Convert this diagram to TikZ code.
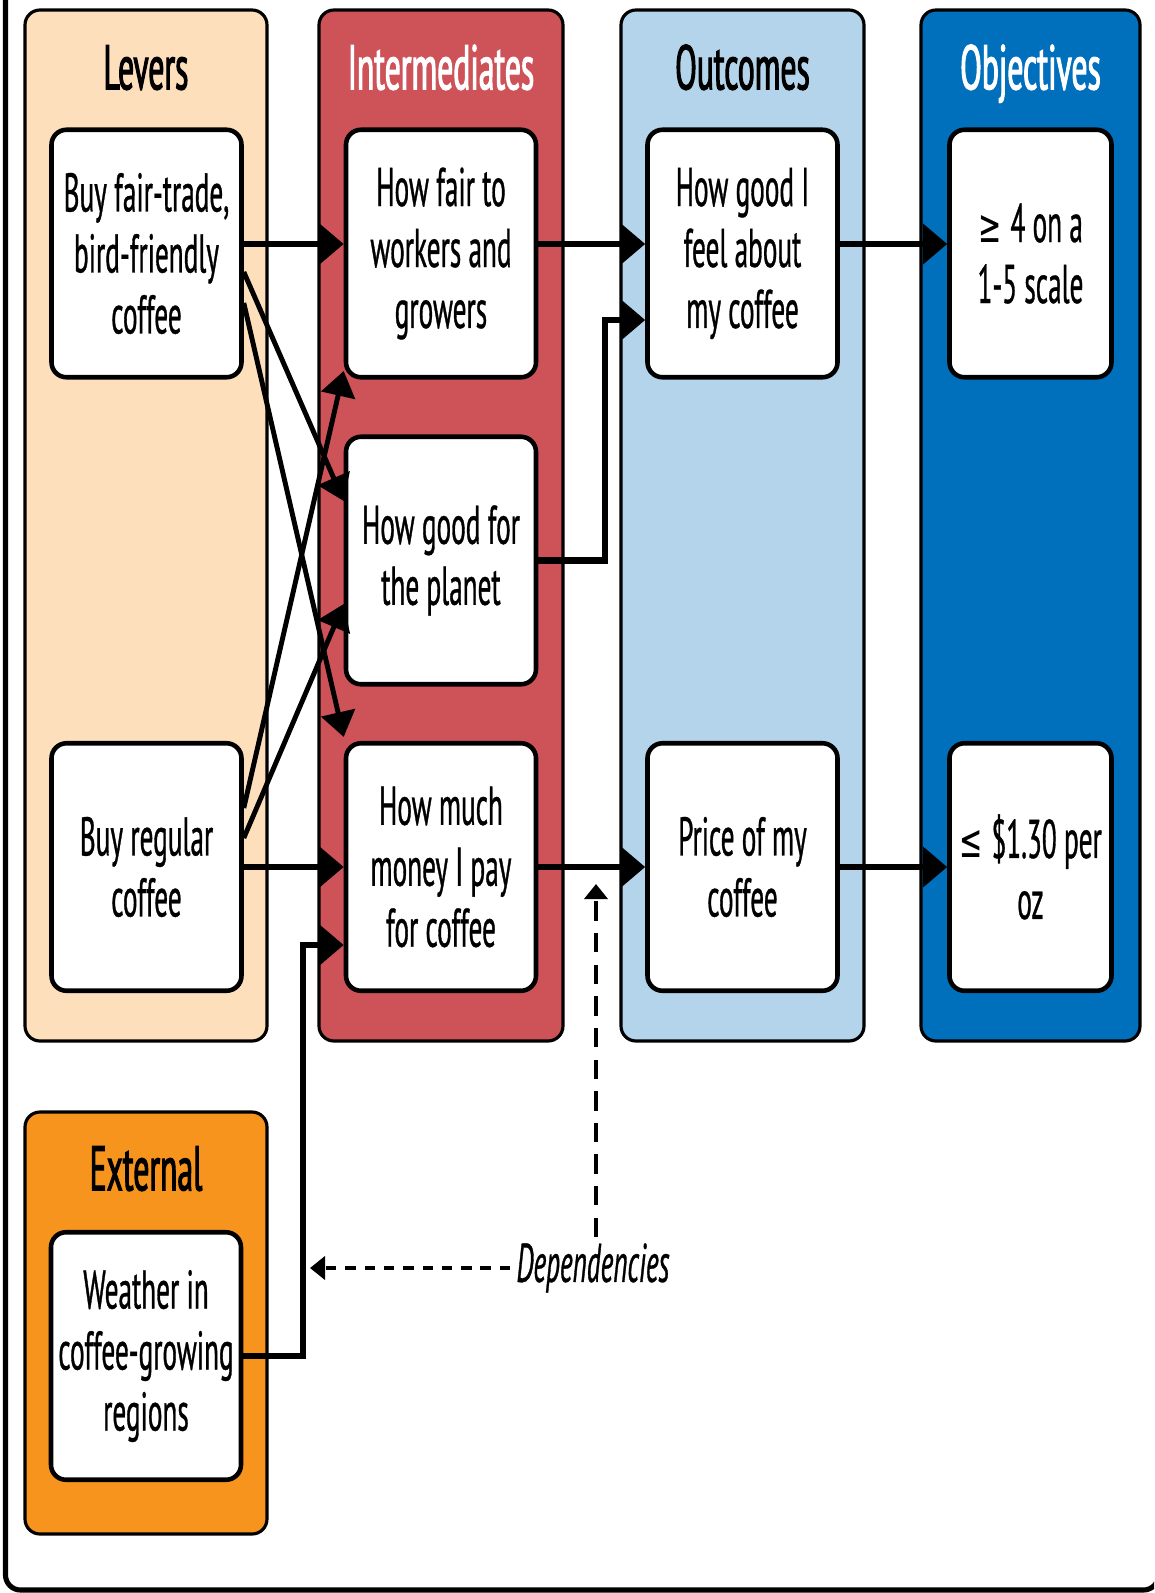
\documentclass[tikz,border=0pt]{standalone}
\usepackage{fontspec}
\setmainfont{PT Sans}[FakeStretch=0.5, FakeBold=0.6]
\newfontfamily\ttlfont{PT Sans}[FakeStretch=0.5, FakeBold=1.6]
\newfontfamily\symfont{DejaVu Sans}[FakeStretch=0.6, Scale=0.85]
\usetikzlibrary{arrows.meta, positioning, calc}

\definecolor{leverfill}{RGB}{253,223,188}
\definecolor{interfill}{RGB}{205,83,89}
\definecolor{outfill}{RGB}{179,212,234}
\definecolor{objfill}{RGB}{0,112,189}
\definecolor{extfill}{RGB}{247,148,29}

\tikzset{
  panel/.style={rectangle, draw, line width=1.8pt, rounded corners=0.3cm,
                minimum width=4.84cm, minimum height=20.62cm},
  box/.style={rectangle, draw, fill=white, line width=2.6pt, rounded corners=0.3cm,
              minimum width=3.8cm, minimum height=4.95cm, align=center,
              font=\fontsize{31}{34.7}\selectfont},
  ttl/.style={anchor=base, font=\ttlfont\fontsize{36}{40}\selectfont},
  flow/.style={-{Triangle[length=0.48cm, width=0.78cm]}, line width=3.6pt},
  cross/.style={-{Triangle[length=0.5cm, width=0.68cm]}, line width=2.8pt},
}

\begin{document}
\begin{tikzpicture}[
  dep/.style={-{Triangle[length=0.3cm, width=0.46cm]}, line width=2.3pt},
  deplbl/.style={font=\fontsize{31}{34.7}\selectfont\itshape},
]
  \useasboundingbox (0,0) rectangle (23.08,-31.86);
  \clip (0,0) rectangle (23.08,-31.86);

  \draw[line width=2.9pt, rounded corners=0.3cm] (0.11,1) rectangle (23.17,-31.8);

  % columns
  \node[panel, fill=leverfill] (lev) at (2.92,-10.51) {};
  \node[panel, fill=interfill, minimum width=4.88cm] (int) at (8.82,-10.51) {};
  \node[panel, fill=outfill, minimum width=4.86cm] (out) at (14.85,-10.51) {};
  \node[panel, fill=objfill, minimum width=4.38cm] (obj) at (20.61,-10.51) {};
  \node[panel, fill=extfill, minimum height=8.44cm] (ext) at (2.92,-26.46) {};

  \node[ttl] (levt) at ([yshift=-1.62cm]lev.north) {Levers};
  \node[ttl, text=white] (intt) at ([yshift=-1.62cm]int.north) {Intermediates};
  \node[ttl] (outt) at ([yshift=-1.62cm]out.north) {Outcomes};
  \node[ttl, text=white] (objt) at ([yshift=-1.62cm]obj.north) {Objectives};
  \node[ttl] (extt) at ([yshift=-1.6cm]ext.north) {External};

  % boxes
  \node[box] (lev1) at (2.93,-5.07) {Buy fair-trade,\\bird-friendly\\coffee};
  \node[box] (lev2) at (2.93,-17.34) {Buy regular\\coffee};
  \node[box] (int1) at (lev1 -| int) {How fair to\\workers and\\growers};
  \node[box] (int2) at (int |- 0,-11.21) {How good for\\the planet};
  \node[box] (int3) at (lev2 -| int) {How much\\money I pay\\for coffee};
  \node[box] (out1) at (lev1 -| out) {How good I\\feel about\\my coffee};
  \node[box] (out2) at (lev2 -| out) {Price of my\\coffee};
  \node[box, minimum width=3.24cm] (obj1) at (lev1 -| obj) {{\symfont ≥}\,4 on a\\1-5 scale};
  \node[box, minimum width=3.24cm] (obj2) at (lev2 -| obj) {{\symfont ≤}\,\$1.30 per\\oz};
  \node[box] (ext1) at (ext |- 0,-27.12) {Weather in\\coffee-growing\\regions};

  \draw[flow] ([yshift=0.19cm]lev1.east) -- ([yshift=0.19cm]int1.west);
  \draw[flow] ([yshift=0.19cm]int1.east) -- ([yshift=0.19cm]out1.west);
  \draw[flow] ([yshift=0.19cm]out1.east) -- ([yshift=0.19cm]obj1.west);
  \draw[flow] (lev2.east) -- (int3.west);
  \draw[flow] (int3.east) -- (out2.west);
  \draw[flow] (out2.east) -- (obj2.west);
  \draw[flow] (int2.east) -- ++(1.34,0) |- ([yshift=-1.33cm]out1.west);
  \draw[flow] (ext1.east) -- ++(1.2,0) |- ([yshift=-1.56cm]int3.west);

  \draw[cross] ([yshift=-0.37cm]lev1.east) -- ([yshift=1.19cm]int2.west);
  \draw[cross] ([yshift=-0.99cm]lev1.east) -- ([yshift=2.6cm]int3.west);
  \draw[cross] ([yshift=1.18cm]lev2.east) -- ([yshift=-2.35cm]int1.west);
  \draw[cross] ([yshift=0.58cm]lev2.east) -- ([yshift=-0.87cm]int2.west);

  % dependencies
  \node[deplbl] (deps) at (11.86,-25.36) {Dependencies};
  \coordinate (depup) at (11.92,-17.68);
  \coordinate (depleft) at (6.2,-25.36);
  \draw[dep, dash pattern=on 11pt off 7pt] (deps.north -| depup) -- (depup);
  \draw[dep, dash pattern=on 6pt off 5pt] (deps.west) -- (depleft);
\end{tikzpicture}
\end{document}
